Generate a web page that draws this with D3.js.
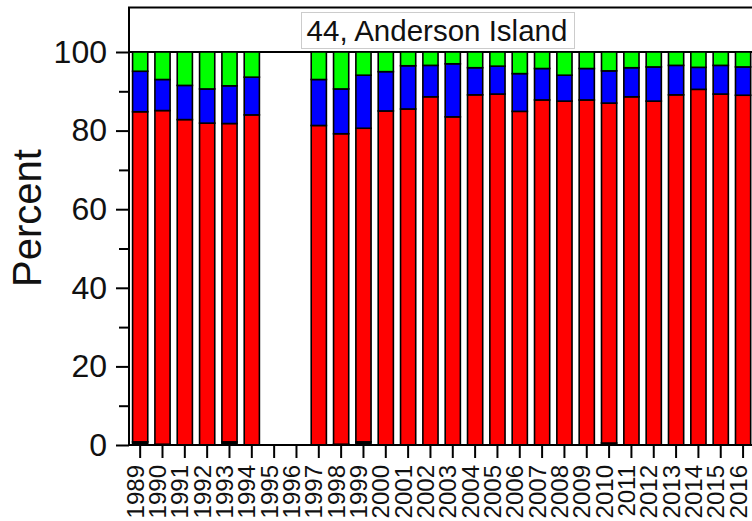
<!DOCTYPE html>
<html>
<head>
<meta charset="utf-8">
<script src="https://cdn.jsdelivr.net/npm/d3@7/dist/d3.min.js"></script>
<style>
  html, body { margin: 0; padding: 0; background: #fff; }
  svg { display: block; font-family: "Liberation Sans", Arial, sans-serif; }
</style>
</head>
<body>
<svg id="chart" width="752" height="521"></svg>
<script>
// ---- data ----
const years = ["1989","1990","1991","1992","1993","1994","1995","1996","1997","1998","1999","2000","2001","2002","2003","2004","2005","2006","2007","2008","2009","2010","2011","2012","2013","2014","2015","2016"];
const blackVals = [0.8, 0.2, 0, 0, 0.8, 0, null, null, 0, 0.2, 0.8, 0, 0, 0, 0, 0, 0, 0, 0, 0, 0, 0.5, 0, 0, 0, 0, 0, 0];
const redVals   = [84.0, 84.9, 82.8, 81.9, 81.0, 84.0, null, null, 81.3, 79.0, 79.8, 85.0, 85.5, 88.6, 83.5, 89.1, 89.3, 84.9, 87.8, 87.5, 87.8, 86.5, 88.6, 87.5, 89.1, 90.5, 89.3, 89.0];
const blueVals  = [10.3, 7.9, 8.7, 8.7, 9.6, 9.6, null, null, 11.7, 11.4, 13.5, 10.0, 11.0, 8.0, 13.5, 6.9, 7.1, 9.6, 8.0, 6.6, 8.0, 8.2, 7.4, 8.7, 7.5, 5.6, 7.3, 7.2];
const greenVals = [4.9, 7.0, 8.5, 9.4, 8.6, 6.4, null, null, 7.0, 9.4, 5.9, 5.0, 3.5, 3.4, 3.0, 4.0, 3.6, 5.5, 4.2, 5.9, 4.2, 4.8, 4.0, 3.8, 3.4, 3.9, 3.4, 3.8];
const seriesNames = ["black", "red", "blue", "green"];
const seriesColors = ["#000000", "#ff0000", "#0000ff", "#00ff00"];
const yTicksMajor = [0, 20, 40, 60, 80, 100];
const yTicksMinor = [10, 30, 50, 70, 90];
const titleText = "44, Anderson Island";
const yLabel = "Percent";

// ---- layout ----
const svg = d3.select("#chart");
const left = 129, bottom = 445, top100 = 52, panelTop = 7.5;

const x = d3.scaleBand().domain(years).range([left, left + 28 * 22.33]).paddingInner(0.32).paddingOuter(0.16);
const y = d3.scaleLinear().domain([0, 100]).range([bottom, top100]);

const rows = years.map((yr, i) => ({
  year: yr,
  black: blackVals[i], red: redVals[i], blue: blueVals[i], green: greenVals[i]
})).filter(d => d.red != null);

const stack = d3.stack().keys(seriesNames);
const stacked = stack(rows);

// strip / title region
svg.append("rect").attr("x", left).attr("y", panelTop).attr("width", 752 - left + 5).attr("height", top100 - panelTop)
  .attr("fill", "#fff").attr("stroke", "#000").attr("stroke-width", 2);
svg.append("rect").attr("x", 301.5).attr("y", 12.5).attr("width", 273).attr("height", 36)
  .attr("fill", "#fff").attr("stroke", "#cccccc").attr("stroke-width", 1);
svg.append("text").attr("x", 437).attr("y", 31).attr("text-anchor", "middle").attr("dy", "0.35em")
  .attr("font-size", 29.5).attr("fill", "#111").text(titleText);

// bars
const g = svg.append("g");
stacked.forEach((s, si) => {
  g.selectAll(null).data(s.filter(d => d[1] - d[0] > 0)).enter().append("rect")
    .attr("x", d => x(d.data.year))
    .attr("width", x.bandwidth())
    .attr("y", d => y(d[1]))
    .attr("height", d => y(d[0]) - y(d[1]))
    .attr("fill", seriesColors[si])
    .attr("stroke", "#000")
    .attr("stroke-width", 1.6);
});

// y axis
const yAxis = d3.axisLeft(y).tickValues(yTicksMajor).tickSize(13).tickPadding(9).tickFormat(d3.format("d"));
const ya = svg.append("g").attr("transform", `translate(${left},0)`).call(yAxis);
ya.select(".domain").remove();
ya.selectAll(".tick line").attr("stroke", "#000").attr("stroke-width", 2);
ya.selectAll(".tick text").attr("font-size", 32).attr("fill", "#111").attr("font-family", "Liberation Sans, Arial, sans-serif");
const yMinor = d3.axisLeft(y).tickValues(yTicksMinor).tickSize(10).tickFormat("");
const ym = svg.append("g").attr("transform", `translate(${left},0)`).call(yMinor);
ym.select(".domain").remove();
ym.selectAll(".tick line").attr("stroke", "#000").attr("stroke-width", 2);

// x axis
const xAxis = d3.axisBottom(x).tickSize(13).tickPadding(4);
const xa = svg.append("g").attr("transform", `translate(0,${bottom})`).call(xAxis);
xa.select(".domain").remove();
xa.selectAll(".tick line").attr("stroke", "#000").attr("stroke-width", 2);
xa.selectAll(".tick text")
  .attr("font-size", 24).attr("fill", "#111").attr("font-family", "Liberation Sans, Arial, sans-serif")
  .attr("transform", "rotate(-90)")
  .attr("text-anchor", "end")
  .attr("x", -20).attr("y", 3.5).attr("dy", 0);

// frame lines
svg.append("line").attr("x1", left).attr("x2", 752).attr("y1", bottom).attr("y2", bottom).attr("stroke", "#000").attr("stroke-width", 2);
svg.append("line").attr("x1", left).attr("x2", left).attr("y1", panelTop).attr("y2", bottom + 1).attr("stroke", "#000").attr("stroke-width", 2);

// y label
svg.append("text").attr("transform", "translate(41,218) rotate(-90)").attr("text-anchor", "middle")
  .attr("font-size", 40).attr("fill", "#111").text(yLabel);
</script>
</body>
</html>
